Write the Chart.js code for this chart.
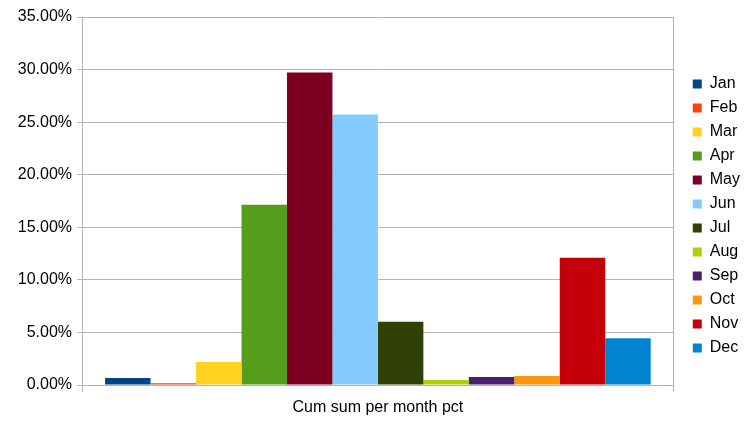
<!DOCTYPE html>
<html>
<head>
<meta charset="utf-8">
<script src="https://cdn.jsdelivr.net/npm/chart.js@4"></script>
<style>
  html, body { margin: 0; padding: 0; background: #fff; }
  #wrap { width: 756px; height: 425px; }
</style>
</head>
<body>
<div id="wrap"><canvas id="chart" width="756" height="425"></canvas></div>
<script>
const CATEGORIES = ["Cum sum per month pct"];
const MONTHS = ["Jan", "Feb", "Mar", "Apr", "May", "Jun", "Jul", "Aug", "Sep", "Oct", "Nov", "Dec"];
const PCT_VALUES = [0.67, 0.16, 2.19, 17.15, 29.72, 25.72, 6.02, 0.48, 0.76, 0.86, 12.1, 4.45];
const COLORS = ["#004586", "#ff420e", "#ffd320", "#579d1c", "#7e0021", "#83caff",
                "#314004", "#aecf00", "#4b1f6f", "#ff950e", "#c5000b", "#0084d1"];
const Y_MAX = 35;
const Y_STEP = 5;

const GRID = "#b3b3b3";
const FONT = { family: "'Liberation Sans', Arial, sans-serif", size: 16 };

const datasets = MONTHS.map((m, i) => ({
  label: m,
  data: [PCT_VALUES[i]],
  backgroundColor: COLORS[i],
  borderWidth: 0,
  barPercentage: 1,
  categoryPercentage: 0.922,
}));

// nudge the legend away from the plot, like the LibreOffice export
const legendShift = {
  id: "legendShift",
  beforeLayout(chart) {
    const lg = chart.legend;
    if (!lg || lg._shifted) return;
    const draw = lg.draw.bind(lg);
    lg.draw = function (area) {
      this.ctx.save();
      this.ctx.translate(11, -5);
      draw(area);
      this.ctx.restore();
    };
    lg._shifted = true;
  },
};

new Chart(document.getElementById("chart"), {
  type: "bar",
  data: { labels: CATEGORIES, datasets },
  plugins: [legendShift],
  options: {
    responsive: false,
    animation: false,
    layout: { padding: { top: 17, right: 17, left: 0, bottom: 0 } },
    plugins: {
      tooltip: { enabled: false },
      legend: {
        position: "right",
        labels: {
          boxWidth: 9,
          boxHeight: 9,
          padding: 8,
          color: "#000",
          font: FONT,
        },
      },
    },
    scales: {
      x: {
        grid: { color: GRID, tickLength: 7, lineWidth: 1 },
        border: { color: GRID },
        ticks: { color: "#000", font: FONT, padding: 6 },
        afterFit: (scale) => { scale.height = 40; },
      },
      y: {
        min: 0,
        max: Y_MAX,
        grid: { color: GRID, tickLength: 5 },
        border: { color: GRID },
        ticks: {
          stepSize: Y_STEP,
          color: "#000",
          font: FONT,
          padding: 5,
          callback: (v) => v.toFixed(2) + "%",
        },
        afterFit: (scale) => { scale.width = 82; },
      },
    },
  },
});
</script>
</body>
</html>
